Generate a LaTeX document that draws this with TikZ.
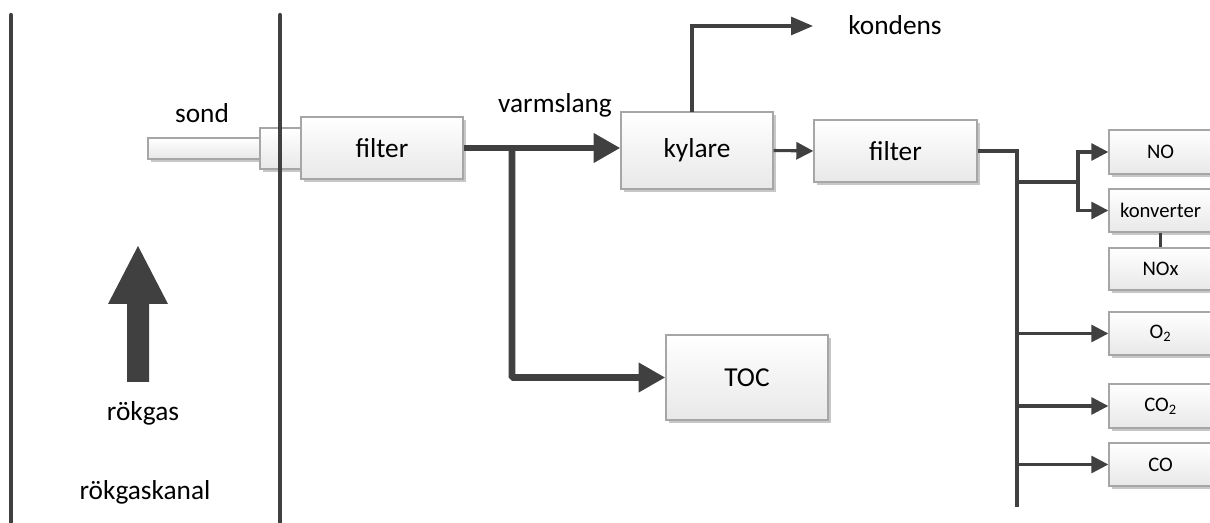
\documentclass[tikz,border=0pt]{standalone}
\usepackage{fontspec}
\setmainfont{Carlito}
\usetikzlibrary{arrows.meta,shadows,calc}
\definecolor{ln}{HTML}{404040}
\definecolor{bx}{HTML}{A6A6A6}
\def\px{0.75pt}
\tikzset{
  box/.style={draw=bx, line width=1pt, top color=white, bottom color=black!9,
    drop shadow={shadow xshift=2.2pt, shadow yshift=-2.2pt, fill=black!22, opacity=1},
    inner sep=0pt, font=\fontsize{20.5}{24}\selectfont, text=black},
  sbox/.style={box, font=\fontsize{15.5}{18}\selectfont},
  lbl/.style={font=\fontsize{20.5}{24}\selectfont, inner sep=0pt},
  thin/.style={draw=ln, line width=2.3pt},
  thinarr/.style={thin, -{Triangle[length=12.75pt, width=12.75pt]}},
  thick/.style={draw=ln, line width=5pt},
  thickarr/.style={thick, -{Triangle[length=20pt, width=21pt]}},
  wall/.style={draw=ln, line width=3.2pt, line cap=round},
}
\begin{document}
\begin{tikzpicture}[x=0.75pt, y=-0.75pt]
\useasboundingbox (0,0) rectangle (1210,523);
% walls
\draw[wall] (11,15) -- (11,530);
% probe
\node[box, minimum width=112*\px, minimum height=21*\px] (sond) at (204,148.5) {};
\node[box, minimum width=50*\px, minimum height=41*\px] (sondhead) at (285,148.5) {};
\draw[wall] (280,15) -- (280,530);
\node[box, minimum width=162*\px, minimum height=62*\px] (filter1) at (382,148) {filter};
\node[lbl] (sondlbl) at (202,113) {sond};
% main boxes
\node[box, minimum width=152*\px, minimum height=77*\px] (kylare) at (697,150.5) {kylare};
\node[box, minimum width=163*\px, minimum height=62*\px] (filter2) at (895.5,151) {filter};
\node[box, minimum width=162*\px, minimum height=85*\px] (toc) at (747,377.5) {TOC};
\node[lbl] (varm) at (555,105) {varmslang};
\node[lbl] (kondens) at (895,25) {kondens};
% analyzers
\node[sbox, minimum width=103*\px, minimum height=44*\px] (no) at (1160.5,152) {NO};
\node[sbox, minimum width=103*\px, minimum height=43*\px] (konv) at (1160.5,210.5) {konverter};
\node[sbox, minimum width=103*\px, minimum height=42*\px] (nox) at (1160.5,269) {NOx};
\node[sbox, minimum width=103*\px, minimum height=43*\px] (o2) at (1160.5,333.5) {O\textsubscript{2}};
\node[sbox, minimum width=103*\px, minimum height=44*\px] (co2) at (1160.5,406) {CO\textsubscript{2}};
\node[sbox, minimum width=103*\px, minimum height=43*\px] (co) at (1160.5,464.5) {CO};
% coordinates
\coordinate (j1) at (512,148);
\coordinate (kt) at (813,26);
\coordinate (busb) at (1017,507);
\coordinate (ba) at (1017,182);
\coordinate (nb) at (1078,182);
% connectors
\draw[thickarr] (filter1.east) -- (filter1.east -| kylare.west);
\draw[thickarr, rounded corners=1pt] (j1) |- (toc.west);
\draw[thin, -{Triangle[length=16.5pt, width=13.5pt]}] (692,112) |- (kt);
\draw[thinarr] (kylare.east) -- (filter2.west);
\draw[thin] (filter2.east) -| (busb);
\draw[thin] (ba) -- (nb);
\draw[thinarr] (nb) |- (no.west);
\draw[thinarr] (nb) |- (konv.west);
\draw[thin] (konv.south) -- (nox.north);
\draw[thinarr] (o2.west -| busb) -- (o2.west);
\draw[thinarr] (co2.west -| busb) -- (co2.west);
\draw[thinarr] (co.west -| busb) -- (co.west);
% flue gas arrow
\fill[ln] (138,246) -- (168,304) -- (149,304) -- (149,382) -- (127,382) -- (127,304) -- (108,304) -- cycle;
\node[lbl] (rg) at (143,413) {rökgas};
\node[lbl] (rgk) at (145,492) {rökgaskanal};
\end{tikzpicture}
\end{document}
